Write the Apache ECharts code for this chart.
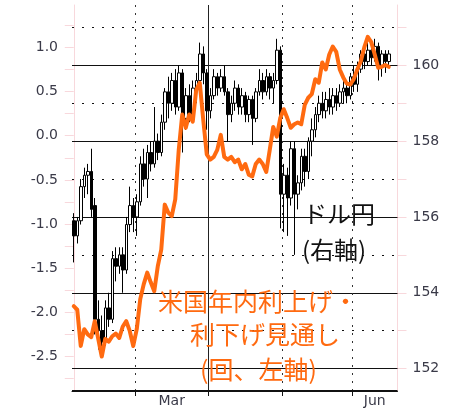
<!DOCTYPE html>
<html>
<head>
<meta charset="utf-8">
<style>
  html, body { margin: 0; padding: 0; background: #fff; }
  #chart { width: 457px; height: 408px; }
</style>
<script src="https://cdn.jsdelivr.net/npm/echarts@6/dist/echarts.min.js"></script>
</head>
<body>
<div id="chart"></div>
<script>
// trading days per month block on the x axis
const monthNames = ['Feb', 'Mar', 'Apr', 'May', 'Jun'];
const monthDays = [18, 21, 21, 20, 13];
const labelledMonths = ['Mar', 'Jun'];
const quarterMonth = 'Apr'; // solid line at quarter start

// ドル円 (右軸)  [open, close, low, high]
const usdJpy = [
  [155.9, 155.5, 154.8, 156.1], [155.5, 155.9, 155.3, 156.0], [155.9, 156.8, 155.8, 157.0],
  [156.8, 157.1, 156.5, 157.3], [157.1, 157.2, 156.6, 157.4], [157.2, 156.2, 156.0, 157.8],
  [156.3, 153.3, 152.9, 156.5], [153.3, 153.0, 152.5, 153.8], [153.0, 152.7, 152.4, 153.4],
  [152.7, 153.6, 152.6, 153.8], [153.6, 153.3, 153.1, 154.0], [153.3, 154.9, 153.2, 155.1],
  [154.9, 154.7, 154.3, 155.2], [154.7, 155.0, 154.5, 155.2], [155.0, 154.6, 154.0, 155.2],
  [154.6, 155.8, 154.5, 156.0], [155.8, 156.3, 155.6, 156.8], [156.3, 156.0, 155.6, 156.5],
  [156.0, 156.4, 155.5, 156.6], [156.4, 157.4, 156.3, 157.6], [157.4, 157.0, 156.8, 157.8],
  [157.0, 157.7, 156.5, 157.9], [157.7, 157.4, 157.2, 158.0], [157.4, 158.0, 157.3, 158.9],
  [158.0, 157.7, 157.5, 158.2], [157.7, 158.5, 157.6, 158.7], [158.5, 159.3, 158.3, 159.4],
  [159.3, 159.0, 158.6, 159.7], [159.0, 159.6, 158.8, 159.8], [159.6, 158.9, 158.7, 159.9],
  [158.9, 159.8, 158.8, 160.0], [159.8, 158.6, 157.7, 159.9], [158.6, 159.2, 158.3, 159.4],
  [159.2, 158.7, 158.5, 159.5], [158.7, 159.4, 158.5, 159.6], [159.4, 159.6, 159.0, 159.8],
  [159.6, 160.3, 159.5, 160.6], [160.3, 159.8, 159.5, 160.5], [159.8, 158.8, 158.3, 159.9],
  [158.8, 159.2, 158.6, 159.4], [159.2, 159.7, 159.1, 159.9], [159.7, 159.4, 159.2, 159.8],
  [159.4, 159.7, 159.3, 159.9], [159.7, 159.3, 159.2, 160.0], [159.3, 158.7, 158.0, 159.4],
  [158.7, 159.0, 158.5, 159.2], [159.0, 159.4, 158.8, 159.6], [159.4, 158.9, 158.7, 159.5],
  [158.9, 159.2, 158.7, 159.4], [159.2, 158.7, 158.5, 159.3], [158.7, 159.1, 158.5, 159.2],
  [159.1, 158.6, 157.9, 159.2], [158.6, 159.3, 158.5, 159.4], [159.3, 159.6, 159.2, 159.9],
  [159.6, 159.3, 159.1, 159.8], [159.3, 159.7, 159.2, 159.9], [159.7, 159.4, 159.1, 159.8],
  [159.4, 159.6, 159.0, 159.8], [159.6, 160.4, 159.5, 160.7], [160.4, 156.6, 155.7, 160.5],
  [156.6, 157.1, 155.6, 157.4], [157.1, 156.5, 155.5, 157.3], [156.5, 157.8, 156.3, 158.0],
  [157.8, 156.6, 155.0, 158.0], [156.6, 156.9, 156.2, 157.1], [156.9, 157.6, 156.7, 157.8],
  [157.6, 157.2, 156.8, 157.8], [157.2, 158.0, 157.0, 158.1], [158.0, 158.3, 157.6, 158.6],
  [158.3, 158.7, 158.1, 158.9], [158.7, 159.0, 158.5, 159.2], [159.0, 158.8, 158.6, 159.3],
  [158.8, 159.1, 158.6, 159.3], [159.1, 158.9, 158.7, 159.4], [158.9, 159.2, 158.7, 159.4],
  [159.2, 159.0, 158.8, 159.4], [159.0, 159.3, 158.9, 159.5], [159.3, 159.4, 159.0, 159.6],
  [159.4, 159.2, 159.0, 159.6], [159.2, 159.7, 159.1, 159.8], [159.7, 159.5, 159.3, 160.0],
  [159.5, 159.9, 159.3, 160.1], [159.9, 160.3, 159.8, 160.4], [160.3, 160.1, 159.9, 160.5],
  [160.1, 160.4, 160.0, 160.6], [160.4, 160.2, 160.0, 160.6], [160.2, 160.5, 160.1, 160.7],
  [160.5, 160.0, 159.6, 160.6], [160.0, 160.3, 159.7, 160.4], [160.3, 160.1, 159.8, 160.4],
  [160.1, 160.3, 160.0, 160.4]
];

// 米国年内利上げ・利下げ見通し (回、左軸)
const ratePath = [
  -1.93, -1.97, -2.38, -2.19, -2.25, -2.28, -2.10, -2.30, -2.50, -2.30,
  -2.33, -2.27, -2.24, -2.29, -2.16, -2.10, -2.21, -2.38, -2.19, -1.85,
  -1.68, -1.55, -1.66, -1.76, -1.48, -1.29, -0.78, -0.87, -0.91, -0.72,
  -0.16, 0.24, 0.09, 0.24, 0.16, 0.52, 0.60, 0.18, -0.21, -0.27,
  -0.24, -0.16, 0.01, -0.24, -0.27, -0.24, -0.30, -0.27, -0.38, -0.32,
  -0.44, -0.46, -0.32, -0.27, -0.32, -0.41, -0.16, 0.10, -0.01, 0.20,
  0.30, 0.20, 0.09, 0.13, 0.15, 0.13, 0.35, 0.43, 0.47, 0.64,
  0.60, 0.83, 0.75, 0.92, 1.01, 0.95, 0.75, 0.66, 0.59, 0.58,
  0.64, 0.75, 0.84, 1.00, 1.12, 1.06, 0.92, 0.77, 0.78, 0.80,
  0.78
];

const leftLabels = [-2.5, -2.0, -1.5, -1.0, -0.5, 0.0, 0.5, 1.0];
const leftTicks = [-2.75, -2.5, -2.25, -2.0, -1.75, -1.5, -1.25, -1.0, -0.75, -0.5, -0.25,
  0.0, 0.25, 0.5, 0.75, 1.0, 1.25];
const rightLabels = [152, 154, 156, 158, 160];
const rightTicks = [152, 153, 154, 155, 156, 157, 158, 159, 160, 161];
const rightMin = 151.408;
const rightMax = 161.592;

// month boundaries and label positions (in day index units)
const monthStart = [];
let acc = 0;
monthDays.forEach(d => { monthStart.push(acc); acc += d; });
const totalDays = acc;
const boundaries = monthStart.slice(1).map(s => s - 0.5);
const labelPos = {};
monthNames.forEach((m, k) => {
  if (labelledMonths.includes(m)) labelPos[monthStart[k] + Math.floor(monthDays[k] / 2)] = m;
});

const pink = '#f8d8dc';
const orange = '#ff6a10';
const axisFont = { fontFamily: 'DejaVu Sans', fontSize: 14, color: '#3a3a48' };

const gridLines = [];
rightTicks.forEach(v => {
  const solid = v % 2 === 0;
  gridLines.push({ yAxis: v, lineStyle: { color: '#111', width: 1, type: solid ? 'solid' : [2, 8] } });
});
boundaries.forEach((b, k) => {
  const solid = monthNames[k + 1] === quarterMonth;
  gridLines.push({ xAxis: b, lineStyle: { color: solid ? '#222' : '#333', width: 1, type: solid ? 'solid' : [2, 6] } });
});
// bottom frame line of the plot
gridLines.push({ yAxis: rightMin + 0.013, lineStyle: { color: '#111', width: 1, type: 'solid' } });

const chart = echarts.init(document.getElementById('chart'));
chart.setOption({
  animation: false,
  grid: { left: 72, right: 59.5, top: 5, bottom: 16 },
  xAxis: {
    type: 'value',
    min: -0.5,
    max: totalDays - 0.5,
    axisLine: { show: true, onZero: false, lineStyle: { color: '#111', width: 1 } },
    axisTick: { show: true, customValues: boundaries, length: 5, lineStyle: { color: '#111' } },
    axisLabel: Object.assign({
      customValues: Object.keys(labelPos).map(Number),
      formatter: v => labelPos[v] || '',
      margin: 3
    }, axisFont),
    splitLine: { show: false }
  },
  yAxis: [{
    type: 'value',
    position: 'left',
    min: -2.89,
    max: 1.48,
    axisLine: { show: true, lineStyle: { color: pink } },
    axisTick: { show: true, customValues: leftTicks, length: 9, lineStyle: { color: pink } },
    axisLabel: Object.assign({
      customValues: leftLabels,
      formatter: v => v.toFixed(1),
      margin: 14
    }, axisFont),
    splitLine: { show: false }
  }, {
    type: 'value',
    position: 'right',
    min: rightMin,
    max: rightMax,
    axisLine: { show: true, lineStyle: { color: pink } },
    axisTick: { show: true, customValues: rightTicks, length: 9, lineStyle: { color: pink } },
    axisLabel: Object.assign({
      customValues: rightLabels,
      margin: 15
    }, axisFont),
    splitLine: { show: false }
  }],
  series: [{
    name: 'ドル円',
    type: 'candlestick',
    yAxisIndex: 1,
    barWidth: 3,
    z: 2,
    data: usdJpy.map((c, i) => [i, c[0], c[1], c[2], c[3]]),
    itemStyle: {
      color: '#ffffff', color0: '#000000',
      borderColor: '#000000', borderColor0: '#000000', borderWidth: 1
    },
    markLine: {
      silent: true,
      z: 1,
      symbol: ['none', 'none'],
      label: { show: false },
      emphasis: { disabled: true },
      data: gridLines
    }
  }, {
    name: '米国年内利上げ・利下げ見通し',
    type: 'line',
    yAxisIndex: 0,
    z: 3,
    showSymbol: false,
    data: ratePath.map((v, i) => [i, v]),
    lineStyle: { color: orange, width: 4, join: 'round', cap: 'round' },
    itemStyle: { color: orange }
  }],
  graphic: [
    { type: 'text', x: 303, y: 214, z: 10, style: { text: 'ドル円', fill: '#111', font: '24px "Noto Sans CJK JP"', align: 'left', verticalAlign: 'middle' } },
    { type: 'text', x: 302, y: 250, z: 10, style: { text: '(右軸)', fill: '#111', font: '24px "Noto Sans CJK JP"', align: 'left', verticalAlign: 'middle' } },
    { type: 'text', x: 158, y: 301, z: 10, style: { text: '米国年内利上げ・', fill: orange, font: '25px "Noto Sans CJK JP"', align: 'left', verticalAlign: 'middle' } },
    { type: 'text', x: 190, y: 334, z: 10, style: { text: '利下げ見通し', fill: orange, font: '25px "Noto Sans CJK JP"', align: 'left', verticalAlign: 'middle' } },
    { type: 'text', x: 200, y: 369, z: 10, style: { text: '(回、左軸)', fill: orange, font: '25px "Noto Sans CJK JP"', align: 'left', verticalAlign: 'middle' } }
  ]
});
</script>
</body>
</html>
